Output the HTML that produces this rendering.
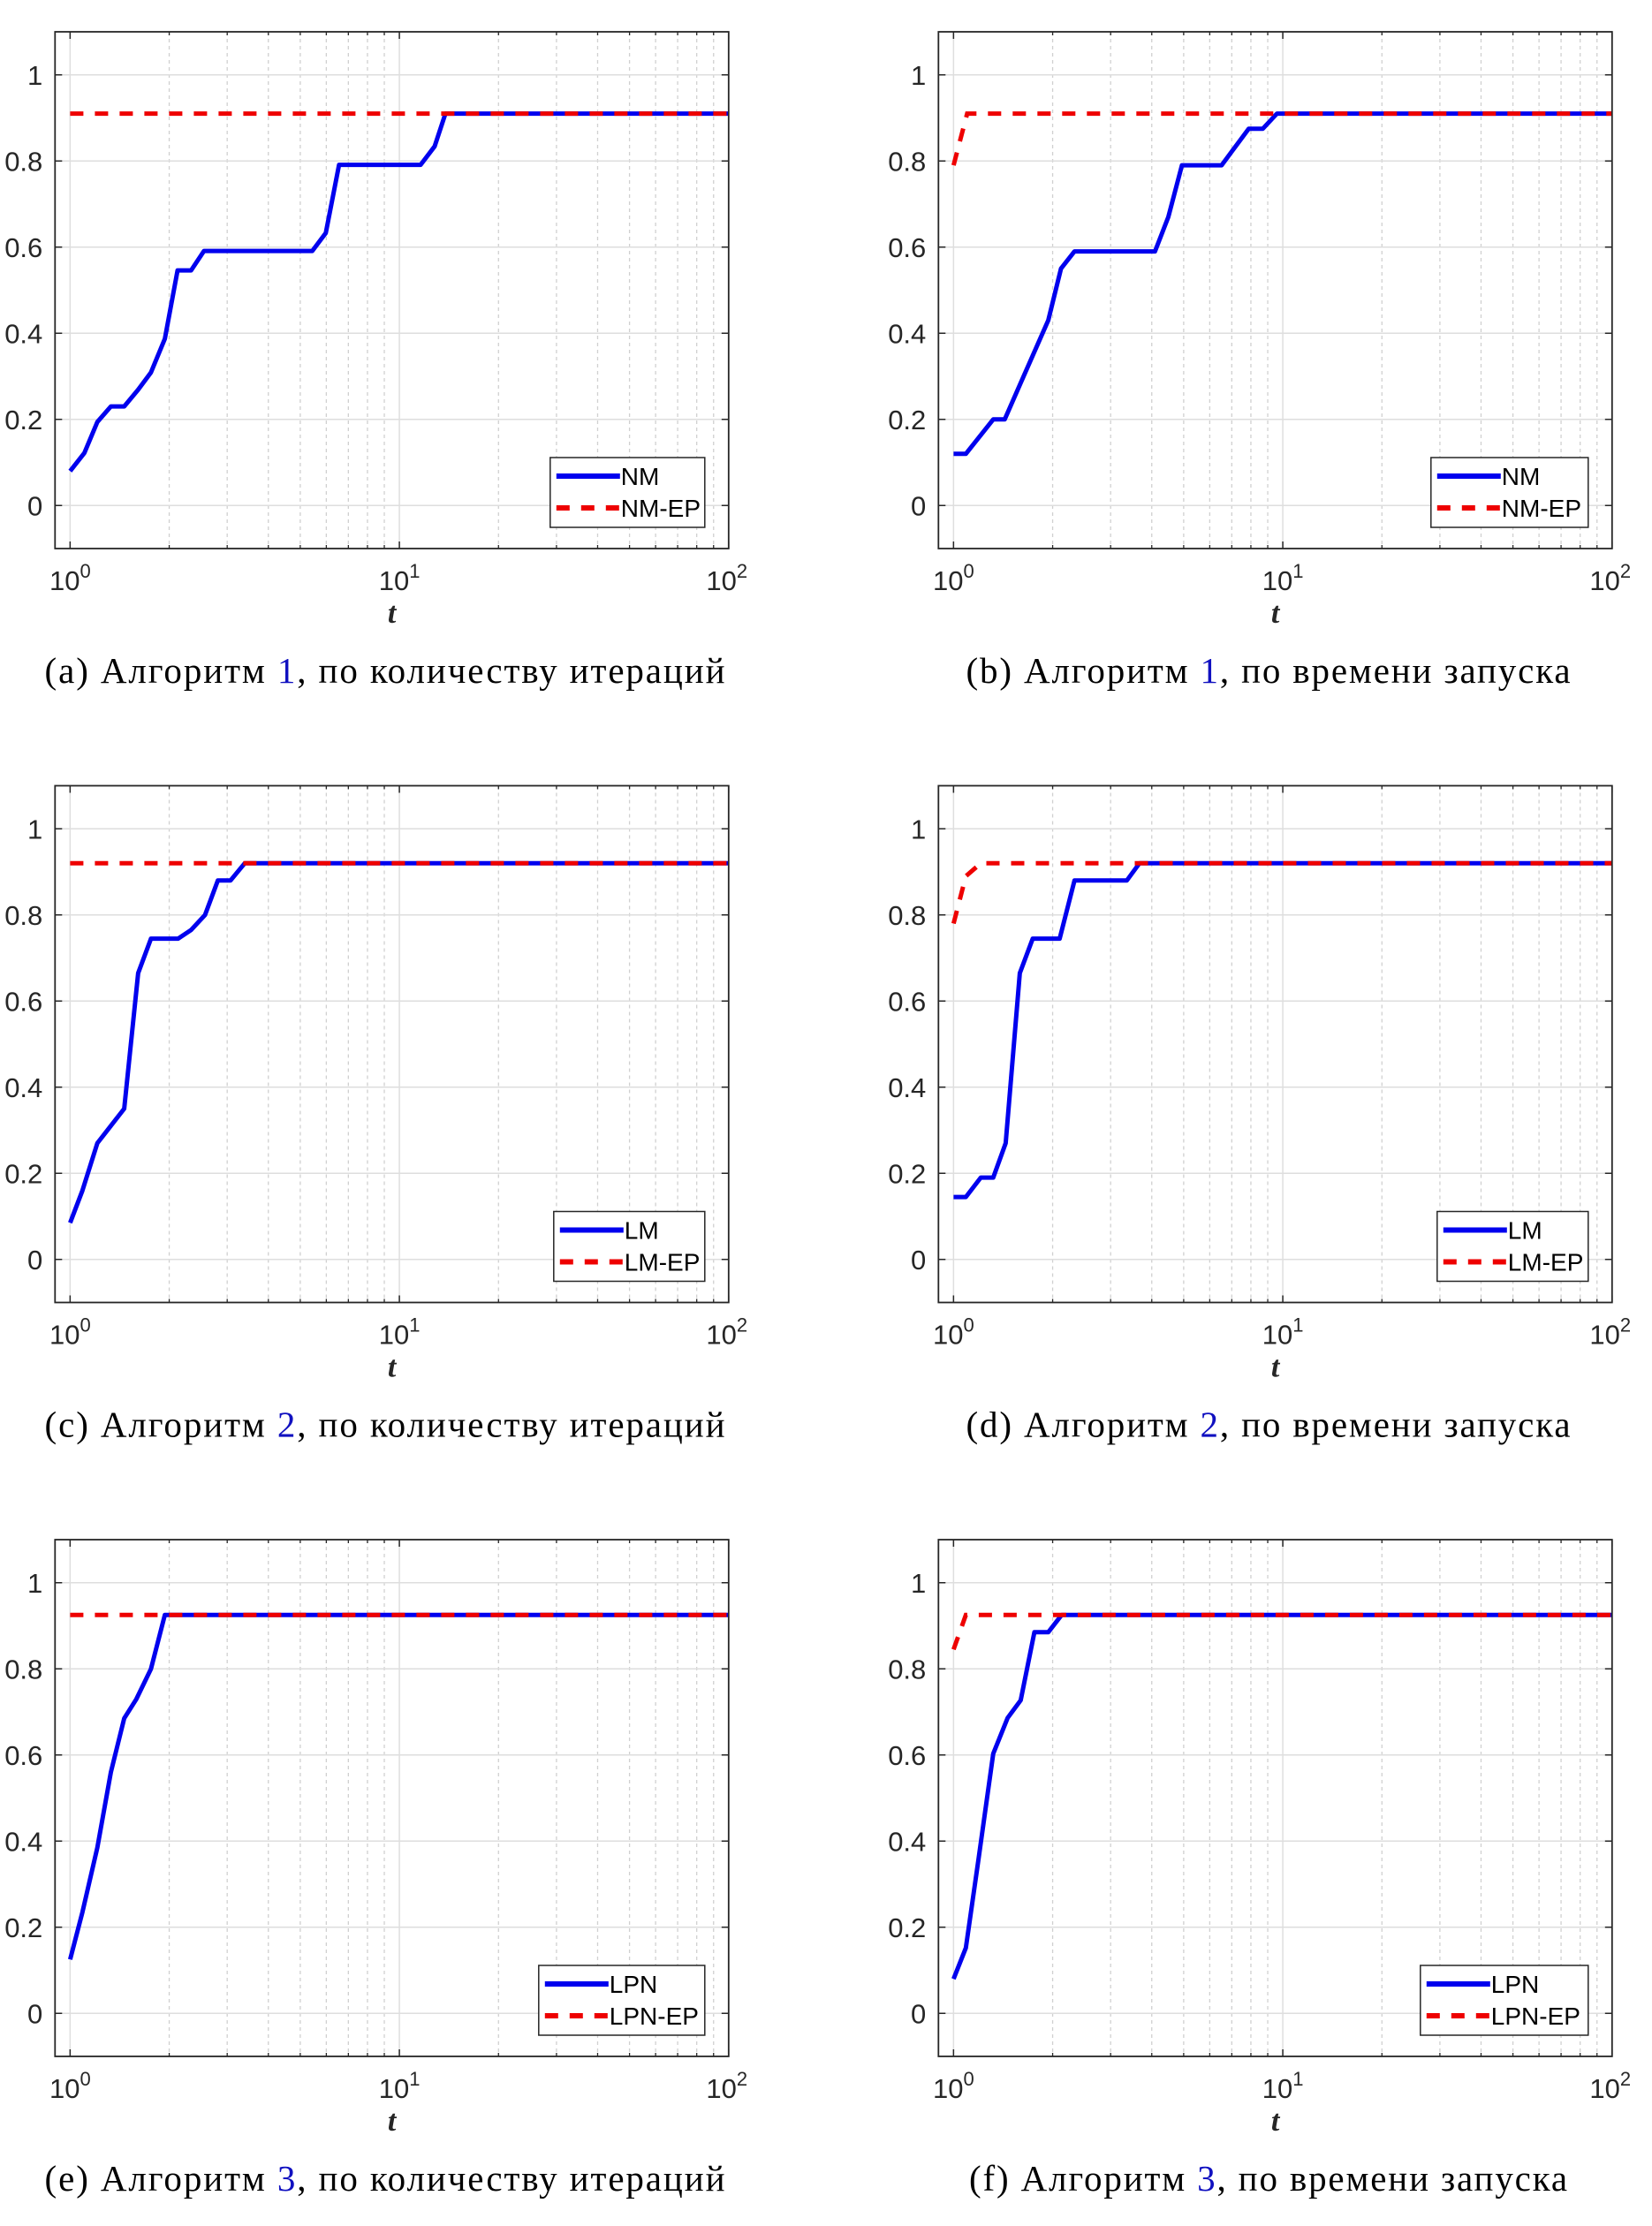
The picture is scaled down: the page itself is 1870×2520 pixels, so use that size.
<!DOCTYPE html>
<html><head><meta charset="utf-8"><style>
html,body{margin:0;padding:0;background:#fff;}
svg{display:block;}
</style></head><body>
<svg id="fig" width="1870" height="2520" xmlns="http://www.w3.org/2000/svg"></svg>
<script>
// ---- data ----
const aBlueX=[1,1.105,1.21,1.33,1.46,1.61,1.76,1.94,2.12,2.33,2.55,5.44,5.98,6.56,11.6,12.8,13.8,100];
const aBlueY=[0.08,0.122,0.194,0.23,0.23,0.269,0.309,0.387,0.546,0.546,0.591,0.591,0.633,0.791,0.791,0.834,0.91,0.91];
const aRedX=[1,100];
const aRedY=[0.91,0.91];
const bBlueX=[1,1.09,1.32,1.43,1.59,1.94,2.12,2.33,4.09,4.49,4.94,6.52,7.88,8.7,9.6,100];
const bBlueY=[0.12,0.12,0.2,0.2,0.28,0.43,0.55,0.59,0.59,0.67,0.79,0.79,0.875,0.875,0.91,0.91];
const bRedX=[1,1.1,100];
const bRedY=[0.79,0.91,0.91];
const cBlueX=[1,1.09,1.21,1.46,1.61,1.76,2.13,2.33,2.57,2.81,3.07,3.39,100];
const cBlueY=[0.085,0.16,0.27,0.35,0.665,0.745,0.745,0.765,0.80,0.88,0.88,0.92,0.92];
const cRedX=[1,100];
const cRedY=[0.92,0.92];
const dBlueX=[1,1.09,1.21,1.32,1.44,1.59,1.74,2.1,2.33,3.36,3.67,100];
const dBlueY=[0.145,0.145,0.19,0.19,0.27,0.665,0.745,0.745,0.88,0.88,0.92,0.92];
const dRedX=[1,1.09,1.21,100];
const dRedY=[0.78,0.89,0.92,0.92];
const eBlueX=[1,1.09,1.21,1.33,1.46,1.59,1.76,1.94,100];
const eBlueY=[0.125,0.235,0.385,0.56,0.685,0.73,0.80,0.925,0.925];
const eRedX=[1,100];
const eRedY=[0.925,0.925];
const fBlueX=[1,1.09,1.19,1.32,1.46,1.60,1.76,1.94,2.13,100];
const fBlueY=[0.08,0.152,0.356,0.603,0.686,0.727,0.885,0.885,0.925,0.925];
const fRedX=[1,1.09,100];
const fRedY=[0.845,0.925,0.925];
const yTicks=[0,0.2,0.4,0.6,0.8,1];
const yTickLabels=["0","0.2","0.4","0.6","0.8","1"];
const xDecades=[1,10,100];
const xDecadeExp=["0","1","2"];
const legendNames=[["NM","NM-EP"],["NM","NM-EP"],["LM","LM-EP"],["LM","LM-EP"],["LPN","LPN-EP"],["LPN","LPN-EP"]];
const captionPre=["(a) Алгоритм ","(b) Алгоритм ","(c) Алгоритм ","(d) Алгоритм ","(e) Алгоритм ","(f) Алгоритм "];
const captionNum=["1","1","2","2","3","3"];
const captionPost=[", по количеству итераций",", по времени запуска",", по количеству итераций",", по времени запуска",", по количеству итераций",", по времени запуска"];
const series=[[aBlueX,aBlueY,aRedX,aRedY],[bBlueX,bBlueY,bRedX,bRedY],[cBlueX,cBlueY,cRedX,cRedY],[dBlueX,dBlueY,dRedX,dRedY],[eBlueX,eBlueY,eRedX,eRedY],[fBlueX,fBlueY,fRedX,fRedY]];

// ---- layout ----
const NS="http://www.w3.org/2000/svg";
const svg=document.getElementById('fig');
const W=762.5,H=585,XMIN=0.9,XMAX=100,YMIN=-0.1,YMAX=1.1;
const legW=[175,178,171,171,188,190];
const capW=[770,684,770,684,770,677];
function mk(tag,attrs,parent){const e=document.createElementNS(NS,tag);for(const k in attrs)e.setAttribute(k,attrs[k]);(parent||svg).appendChild(e);return e;}

for(let p=0;p<6;p++){
  const col=p%2,row=Math.floor(p/2);
  const L=62.3+col*1000,T=36+row*853.5;
  const sx=v=>L+(Math.log10(v)-Math.log10(XMIN))/(Math.log10(XMAX)-Math.log10(XMIN))*W;
  const sy=v=>T+(YMAX-v)/(YMAX-YMIN)*H;
  const g=mk('g',{});
  
  
  for(let d=0;d<2;d++)for(let m=2;m<=9;m++){
    const x=sx(m*Math.pow(10,d));
    const l=mk('line',{x1:x,x2:x,y1:T,y2:T+H,stroke:'#d0d0d0','stroke-width':1.3,'stroke-dasharray':'4 4'},g);
    
    
    mk('line',{x1:x,x2:x,y1:T+H,y2:T+H-4,stroke:'#262626','stroke-width':1.3},g);
    mk('line',{x1:x,x2:x,y1:T,y2:T+4,stroke:'#262626','stroke-width':1.3},g);
  }
  xDecades.forEach((v,i)=>{
    const x=sx(v);
    const l=mk('line',{x1:x,x2:x,y1:T,y2:T+H,stroke:'#dedede','stroke-width':1.5},g);
    
    
    mk('line',{x1:x,x2:x,y1:T+H,y2:T+H-8,stroke:'#262626','stroke-width':1.5},g);
    mk('line',{x1:x,x2:x,y1:T,y2:T+8,stroke:'#262626','stroke-width':1.5},g);
    const t=mk('text',{x:x+(i==2?-2:0),y:T+632,'font-family':'Liberation Sans, sans-serif','font-size':31,fill:'#262626','text-anchor':'middle'},g);
    
    
    t.appendChild(document.createTextNode('10'));
    const s=document.createElementNS(NS,'tspan');s.setAttribute('dy','-14');s.setAttribute('font-size','22');s.textContent=xDecadeExp[i];t.appendChild(s);
  });
  yTicks.forEach((v,i)=>{
    const y=sy(v);
    const l=mk('line',{x1:L,x2:L+W,y1:y,y2:y,stroke:'#dedede','stroke-width':1.5},g);
    
    
    mk('line',{x1:L,x2:L+8,y1:y,y2:y,stroke:'#262626','stroke-width':1.5},g);
    mk('line',{x1:L+W,x2:L+W-8,y1:y,y2:y,stroke:'#262626','stroke-width':1.5},g);
    const t=mk('text',{x:L-14,y:y+11,'font-family':'Liberation Sans, sans-serif','font-size':31,fill:'#262626','text-anchor':'end'},g);
    
    
    t.textContent=yTickLabels[i];
  });
  const [bx,by,rx,ry]=series[p];
  const pts=(xs,ys)=>xs.map((x,i)=>sx(x).toFixed(1)+','+sy(ys[i]).toFixed(1)).join(' ');
  const bl=mk('polyline',{points:pts(bx,by),fill:'none',stroke:'#0000ee','stroke-width':5,'stroke-linejoin':'round'},g);
  
  
  const rl=mk('polyline',{points:pts(rx,ry),fill:'none',stroke:'#ee0000','stroke-width':5,'stroke-dasharray':'15 13'},g);
  
  
  const bxr=mk('rect',{x:L,y:T,width:W,height:H,fill:'none',stroke:'#262626','stroke-width':1.8},g);
  
  
  const lw=legW[p],lx=L+W-27-lw,ly=T+482;
  const lg=mk('g',{},g);
  
  
  mk('rect',{x:lx,y:ly,width:lw,height:79,fill:'#fff',stroke:'#262626','stroke-width':1.5},lg);
  mk('line',{x1:lx+7,x2:lx+79,y1:ly+21,y2:ly+21,stroke:'#0000ee','stroke-width':6},lg);
  mk('line',{x1:lx+7,x2:lx+79,y1:ly+57,y2:ly+57,stroke:'#ee0000','stroke-width':6,'stroke-dasharray':'15 13'},lg);
  const t1=mk('text',{x:lx+80,y:ly+31,'font-family':'Liberation Sans, sans-serif','font-size':28,fill:'#000'},lg);
  
  
  t1.textContent=legendNames[p][0];
  const t2=mk('text',{x:lx+80,y:ly+67,'font-family':'Liberation Sans, sans-serif','font-size':28,fill:'#000'},lg);
  
  
  t2.textContent=legendNames[p][1];
  const xt=mk('text',{x:L+W/2,y:T+669,'font-family':'Liberation Serif, serif','font-size':34,'font-style':'italic','font-weight':'bold',fill:'#262626','text-anchor':'middle'},g);
  
  
  xt.textContent='t';
  const c=mk('text',{x:L+W/2-8,y:T+737,'font-family':'Liberation Serif, serif','font-size':41,fill:'#000','text-anchor':'middle',textLength:capW[p],lengthAdjust:'spacing'},g);
  
  
  c.appendChild(document.createTextNode(captionPre[p]));
  const n=document.createElementNS(NS,'tspan');n.setAttribute('fill','#1010c0');n.textContent=captionNum[p];c.appendChild(n);
  c.appendChild(document.createTextNode(captionPost[p]));
}
</script>
</body></html>
